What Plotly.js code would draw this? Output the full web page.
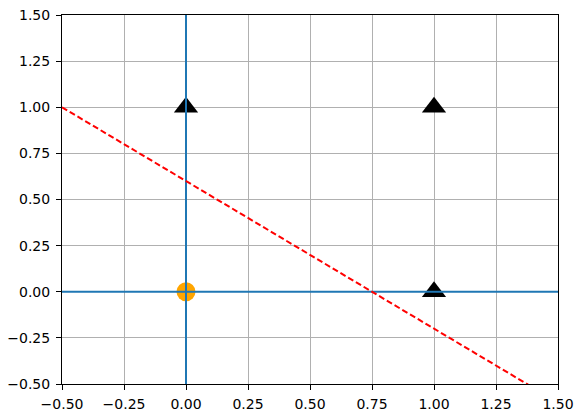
<!DOCTYPE html>
<html>
<head>
<meta charset="utf-8">
<script src="https://cdn.plot.ly/plotly-3.0.1.min.js"></script>
<style>html,body{margin:0;padding:0;background:#fff;}#chart{width:583px;height:418px;}</style>
</head>
<body>
<div id="chart"></div>
<script>
// Data
const circleX = [0];
const circleY = [0];
const triangleX = [0, 1, 1];
const triangleY = [1, 1, 0];
const boundaryX = [-0.5, 1.5];
const boundaryY = [1.0, -0.6];
const hAxisX = [-0.5, 1.5];
const hAxisY = [0, 0];
const vAxisX = [0, 0];
const vAxisY = [-0.5, 1.5];
const tickVals = [-0.5, -0.25, 0, 0.25, 0.5, 0.75, 1.0, 1.25, 1.5];
const tickText = ['\u22120.50', '\u22120.25', '0.00', '0.25', '0.50', '0.75', '1.00', '1.25', '1.50'];

const traces = [
  {x: circleX, y: circleY, mode: 'markers', type: 'scatter',
   marker: {symbol: 'circle', size: 19, color: 'orange', line: {width: 0}}},
  {x: triangleX, y: triangleY, mode: 'markers', type: 'scatter',
   marker: {symbol: 'triangle-up', size: 21, color: 'black', line: {width: 0}}},
  {x: hAxisX, y: hAxisY, mode: 'lines', type: 'scatter', line: {color: '#1f77b4', width: 2}},
  {x: vAxisX, y: vAxisY, mode: 'lines', type: 'scatter', line: {color: '#1f77b4', width: 2}},
  {x: boundaryX, y: boundaryY, mode: 'lines', type: 'scatter', line: {color: 'red', width: 2, dash: '6px,3px'}}
];

const axisCommon = {
  range: [-0.5, 1.5], tickvals: tickVals, ticktext: tickText,
  showgrid: true, gridcolor: '#b0b0b0', gridwidth: 1,
  zeroline: false, showline: true, linecolor: 'black', linewidth: 1, mirror: true,
  ticks: 'outside', ticklen: 5, tickwidth: 1, tickcolor: 'black',
  tickfont: {family: 'DejaVu Sans', size: 14, color: 'black'},
  layer: 'above traces'
};

const layout = {
  width: 583, height: 418,
  margin: {l: 62, r: 25, t: 15, b: 34},
  showlegend: false,
  paper_bgcolor: 'white', plot_bgcolor: 'white',
  xaxis: Object.assign({}, axisCommon, {ticklabelstandoff: 2}),
  yaxis: Object.assign({}, axisCommon, {ticklabelstandoff: 3})
};

Plotly.newPlot('chart', traces, layout, {displayModeBar: false, staticPlot: true});
</script>
</body>
</html>
